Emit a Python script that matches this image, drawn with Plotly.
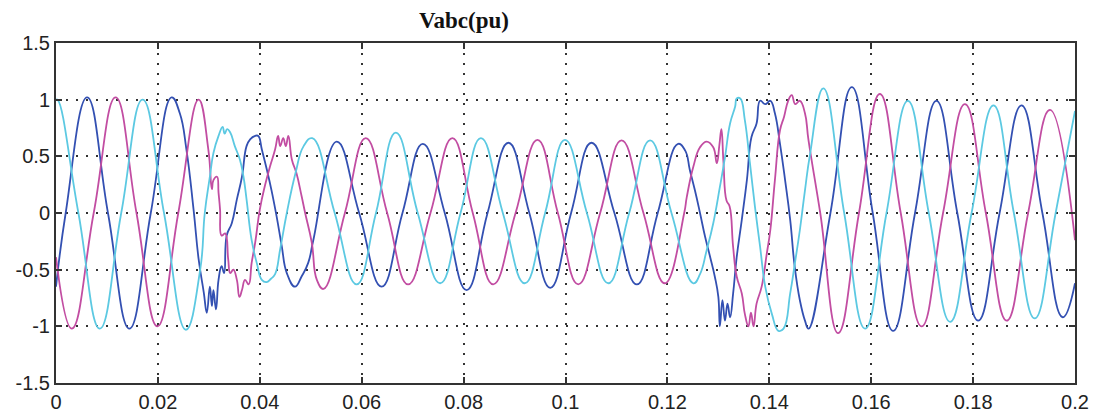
import plotly.graph_objects as go

# ---------------- data ----------------
# Phase A (dark blue)
blue_t = [0.0, 0.0019, 0.0061, 0.0102, 0.0144, 0.0186, 0.0227,
          0.0243, 0.0256, 0.0270, 0.0280, 0.0290, 0.0296, 0.0302, 0.0306, 0.0309, 0.0314,
          0.0319, 0.0325, 0.0330, 0.0335, 0.0345, 0.0355, 0.0365, 0.0374, 0.0381, 0.0391,
          0.0397, 0.0404, 0.0414, 0.0423, 0.0433, 0.0443, 0.0453, 0.0469, 0.0482, 0.0495, 0.0505,
          0.0551, 0.0595, 0.0639, 0.0680, 0.0720, 0.0763, 0.0806, 0.0847, 0.0888, 0.0929,
          0.0970, 0.1011, 0.1051, 0.1096, 0.1140, 0.1181, 0.1221,
          0.1235, 0.1244, 0.1254, 0.1264, 0.1274, 0.1284, 0.1293, 0.1300, 0.1303, 0.1308,
          0.1313, 0.1318, 0.1323, 0.1329, 0.1336, 0.1346, 0.1356, 0.1365, 0.1375, 0.1382,
          0.1392, 0.1402, 0.1411, 0.1421, 0.1431, 0.1441, 0.1450, 0.1460, 0.1470, 0.1477,
          0.1520, 0.1562, 0.1603, 0.1643, 0.1686, 0.1728, 0.1769, 0.1810, 0.1852, 0.1895,
          0.1936, 0.1976, 0.2000]
blue_v = [-0.65, 0.0, 1.02, 0.0, -1.02, 0.0, 1.02,
          0.88, 0.56, 0.03, -0.41, -0.70, -0.88, -0.65, -0.82, -0.68, -0.85,
          -0.59, -0.47, -0.53, -0.20, -0.09, 0.12, 0.32, 0.59, 0.65, 0.68,
          0.68, 0.56, 0.38, 0.20, -0.03, -0.29, -0.53, -0.65, -0.56, -0.44, -0.24,
          0.63, 0.0, -0.65, 0.0, 0.61, 0.0, -0.68, 0.0, 0.62, 0.0,
          -0.66, 0.0, 0.62, 0.0, -0.63, 0.0, 0.61,
          0.55, 0.38, 0.20, 0.0, -0.21, -0.39, -0.56, -0.74, -1.0, -0.77,
          -0.95, -0.80, -0.92, -0.71, -0.39, -0.06, 0.29, 0.67, 0.79, 0.99,
          0.96, 0.99, 0.88, 0.61, 0.29, -0.06, -0.48, -0.77, -0.95, -1.02,
          0.0, 1.11, 0.0, -1.04, 0.0, 0.99, 0.0, -0.95, 0.0, 0.95,
          0.0, -0.92, -0.62]

# Phase B (magenta)
mag_t = [0.0, 0.0031, 0.0074, 0.0117, 0.0158, 0.0199, 0.0240, 0.0280,
         0.0299, 0.0306, 0.0309, 0.0316, 0.0319, 0.0322, 0.0325, 0.0332, 0.0338, 0.0342,
         0.0348, 0.0355, 0.0360, 0.0365, 0.0371, 0.0378, 0.0384, 0.0391, 0.0400, 0.0410,
         0.0420, 0.0430, 0.0436, 0.0440, 0.0446, 0.0451, 0.0456, 0.0463, 0.0472, 0.0482,
         0.0489, 0.0502, 0.0512, 0.0525,
         0.0567, 0.0608, 0.0650, 0.0691, 0.0735, 0.0778, 0.0818, 0.0858, 0.0902, 0.0945,
         0.0985, 0.1025, 0.1068, 0.1110, 0.1153, 0.1195, 0.1233,
         0.1238, 0.1251, 0.1264, 0.1277, 0.1290, 0.1297, 0.1302, 0.1306, 0.1310, 0.1316,
         0.1322, 0.1329, 0.1336, 0.1346, 0.1352, 0.1359, 0.1364, 0.1369, 0.1375, 0.1385,
         0.1395, 0.1402, 0.1411, 0.1421, 0.1429, 0.1437, 0.1444, 0.1451, 0.1460, 0.1470,
         0.1477,
         0.1500, 0.1535, 0.1576, 0.1617, 0.1658, 0.1699, 0.1741, 0.1784, 0.1825, 0.1866,
         0.1908, 0.1951, 0.2000]
mag_v = [-0.39, -1.02, 0.0, 1.02, 0.0, -1.0, 0.0, 1.0,
         0.56, 0.21, 0.29, 0.32, 0.18, 0.03, -0.20, -0.18, -0.41, -0.53,
         -0.50, -0.59, -0.74, -0.68, -0.59, -0.63, -0.44, -0.26, 0.03, 0.24,
         0.41, 0.56, 0.68, 0.59, 0.66, 0.59, 0.68, 0.47, 0.35, 0.15,
         0.0, -0.26, -0.59, -0.67,
         0.0, 0.66, 0.0, -0.63, 0.0, 0.66, 0.0, -0.63, 0.0, 0.645,
         0.0, -0.63, 0.0, 0.64, 0.0, -0.62, 0.0,
         0.14, 0.41, 0.58, 0.63, 0.58, 0.44, 0.60, 0.74, 0.45, 0.11,
         0.06, -0.30, -0.56, -0.71, -0.89, -1.0, -0.88, -1.0, -0.80, -0.65,
         -0.36, -0.15, 0.29, 0.73, 0.85, 0.99, 1.04, 0.96, 0.99, 0.88,
         0.64,
         0.0, -1.06, 0.0, 1.05, 0.0, -1.0, 0.0, 0.96, 0.0, -0.95,
         0.0, 0.91, -0.24]

# Phase C (light cyan)
cyan_t = [0.0, 0.0003, 0.0044, 0.0086, 0.0128, 0.0170, 0.0212, 0.0255,
          0.0283, 0.0292, 0.0302, 0.0309, 0.0319, 0.0327, 0.0331, 0.0336, 0.0342, 0.0351,
          0.0361, 0.0368, 0.0374, 0.0384, 0.0394, 0.0404, 0.0413, 0.0422, 0.0430, 0.0440,
          0.0453, 0.0470, 0.0486, 0.0503,
          0.0547, 0.0590, 0.0628, 0.0667, 0.0710, 0.0754, 0.0794, 0.0834, 0.0877, 0.0920,
          0.0960, 0.0999, 0.1042, 0.1084, 0.1125, 0.1166, 0.1208, 0.1251,
          0.1264, 0.1277, 0.1290, 0.1303, 0.1313, 0.1323, 0.1333, 0.1336, 0.1343, 0.1352,
          0.1362, 0.1372, 0.1382, 0.1392, 0.1405, 0.1418, 0.1428, 0.1441, 0.1450, 0.1460,
          0.1470, 0.1480,
          0.1506, 0.1547, 0.1588, 0.1630, 0.1672, 0.1713, 0.1755, 0.1797, 0.1840, 0.1880,
          0.1921, 0.1962, 0.2000]
cyan_v = [1.0, 1.0, 0.0, -1.02, 0.0, 1.0, 0.0, -1.03,
          -0.50, 0.0, 0.32, 0.53, 0.68, 0.76, 0.70, 0.74, 0.71, 0.59,
          0.47, 0.32, 0.12, -0.24, -0.44, -0.59, -0.61, -0.58, -0.54, -0.32,
          0.0, 0.35, 0.59, 0.66,
          0.0, -0.63, 0.0, 0.71, 0.0, -0.62, 0.0, 0.66, 0.0, -0.62,
          0.0, 0.645, 0.0, -0.62, 0.0, 0.64, 0.0, -0.62,
          -0.54, -0.33, -0.09, 0.23, 0.49, 0.79, 0.94, 1.01, 1.01, 0.82,
          0.44, 0.05, -0.30, -0.65, -0.89, -1.04, -1.02, -0.71, -0.45, -0.15,
          0.20, 0.52,
          1.10, 0.0, -1.02, 0.0, 0.99, 0.0, -0.96, 0.0, 0.95, 0.0,
          -0.93, 0.0, 0.90]

x_ticks = [0, 0.02, 0.04, 0.06, 0.08, 0.1, 0.12, 0.14, 0.16, 0.18, 0.2]
x_labels = ["0", "0.02", "0.04", "0.06", "0.08", "0.1", "0.12", "0.14", "0.16", "0.18", "0.2"]
y_ticks = [-1.5, -1, -0.5, 0, 0.5, 1, 1.5]
y_labels = ["-1.5", "-1", "-0.5", "0", "0.5", "1", "1.5"]

# ---------------- figure ----------------
fig = go.Figure()
series = [
    (blue_t, blue_v, "#3350b2"),
    (mag_t, mag_v, "#c24da2"),
    (cyan_t, cyan_v, "#5cc9e2"),
]
for t, v, c in series:
    fig.add_trace(go.Scatter(x=t, y=v, mode="lines",
                             line=dict(color=c, width=1.8, shape="spline", smoothing=1.3),
                             showlegend=False, hoverinfo="skip"))

axis_common = dict(
    showline=True, linecolor="#333333", linewidth=2, mirror="ticks",
    ticks="inside", ticklen=6, tickcolor="#333333", tickwidth=2,
    showgrid=True, gridcolor="#333333", gridwidth=1.5, griddash="2px,8px",
    zeroline=False, automargin=False,
    tickfont=dict(family="Liberation Sans, Arial, sans-serif", size=20, color="#222222"),
)

fig.update_xaxes(range=[0, 0.2], tickvals=x_ticks, ticktext=x_labels, **axis_common)
fig.update_yaxes(range=[-1.5, 1.5], tickvals=y_ticks, ticktext=y_labels, **axis_common)

fig.update_layout(
    width=1101, height=412,
    margin=dict(l=56, r=26, t=43, b=29),
    paper_bgcolor="white", plot_bgcolor="white",
    title=dict(text="<b>Vabc(pu)</b>", x=464 / 1101, xanchor="center",
               y=1 - 20 / 412, yanchor="middle", yref="container", xref="container",
               font=dict(family="Liberation Serif, Times New Roman, serif", size=23, color="#111111")),
)

fig.write_html("out.html")
